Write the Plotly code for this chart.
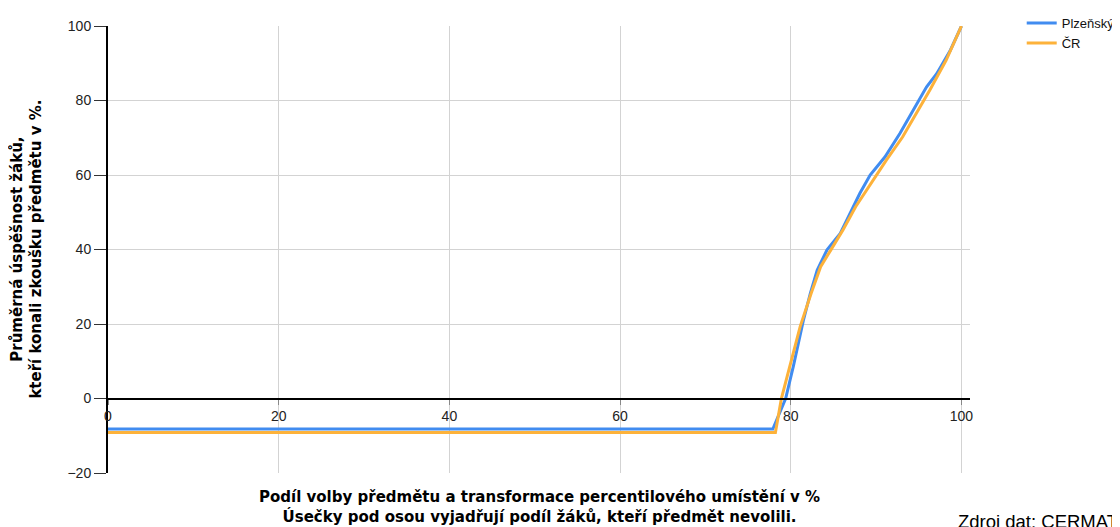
import plotly.graph_objects as go

# Data
plz_x = [0, 77.9, 79.4, 80.3, 81.5, 82.3, 83.1, 84.25, 85.8, 86.95, 88.1, 89.3, 91.05, 92.8, 94.4, 95.9, 97.1, 98.7, 100]
plz_y = [-8.2, -8.2, 0, 8.6, 21.2, 28.3, 34.5, 39.9, 44.3, 49.7, 55.1, 60.0, 64.9, 71.2, 77.4, 83.6, 87.2, 93.5, 100]
cr_x = [0, 78.2, 78.9, 79.9, 81.1, 82.4, 83.5, 84.7, 86.1, 87.6, 89.6, 91.2, 93.1, 94.7, 96.3, 98.2, 100]
cr_y = [-9.1, -9.1, 0, 8.6, 19.3, 28.3, 35.4, 39.9, 45.2, 51.5, 58.6, 64.0, 70.2, 76.5, 82.8, 90.8, 100]
series_names = ["Plzeňský", "ČR"]
x_ticks = [0, 20, 40, 60, 80, 100]
y_ticks = [-20, 0, 20, 40, 60, 80, 100]

BLUE = "#418cf0"
ORANGE = "#fdb23a"

fig = go.Figure()
fig.add_trace(go.Scatter(x=plz_x, y=plz_y, mode="lines", name=series_names[0],
                         line=dict(color=BLUE, width=3)))
fig.add_trace(go.Scatter(x=cr_x, y=cr_y, mode="lines", name=series_names[1],
                         line=dict(color=ORANGE, width=3)))

tickfont = dict(family="Liberation Sans, Arial, sans-serif", size=14, color="#222")
# The page body has an 8px margin, so the figure is sized/margined to compensate.
fig.update_layout(
    width=1112, height=519,
    margin=dict(l=100, r=150, t=18, b=54, autoexpand=False),
    plot_bgcolor="white", paper_bgcolor="white",
    showlegend=True,
    legend=dict(x=1.06, y=1.04, xanchor="left", yanchor="top",
                font=dict(family="Liberation Sans, Arial, sans-serif", size=13, color="#111"),
                bgcolor="rgba(0,0,0,0)", tracegroupgap=0, itemwidth=30),
    xaxis=dict(range=[0, 101], tickvals=x_ticks, showgrid=True, gridcolor="#d3d3d3", gridwidth=1,
               anchor="free", position=1/6, showline=True, linecolor="black", linewidth=2,
               ticks="outside", ticklen=5, tickcolor="#888", tickfont=tickfont, zeroline=False),
    yaxis=dict(range=[-20, 100], tickvals=y_ticks, showgrid=True, gridcolor="#d3d3d3", gridwidth=1,
               showline=True, linecolor="black", linewidth=2, ticks="outside", ticklen=12,
               tickcolor="#333", tickfont=tickfont, zeroline=False),
)

titlefont = dict(family="DejaVu Sans, Verdana, sans-serif", size=15, color="black")
fig.add_annotation(xref="paper", yref="paper", x=0.501, y=-0.076, showarrow=False,
                   text="<b>Podíl volby předmětu a transformace percentilového umístění v %</b><br>"
                        "<b>Úsečky pod osou vyjadřují podíl žáků, kteří předmět nevolili.</b>",
                   font=titlefont, xanchor="center", yanchor="middle")
fig.add_annotation(xref="paper", yref="paper", x=-0.095, y=0.5, showarrow=False, textangle=-90,
                   text="<b>Průměrná úspěšnost žáků,</b><br><b>kteří konali zkoušku předmětu v %.</b>",
                   font=titlefont, xanchor="center", yanchor="middle")
fig.add_annotation(xref="paper", yref="paper", x=1.1735, y=-0.1074, showarrow=False,
                   text="Zdroj dat: CERMAT", xanchor="right", yanchor="middle",
                   font=dict(family="Liberation Sans, Arial, sans-serif", size=18.5, color="black"))

fig.write_html("out.html")
